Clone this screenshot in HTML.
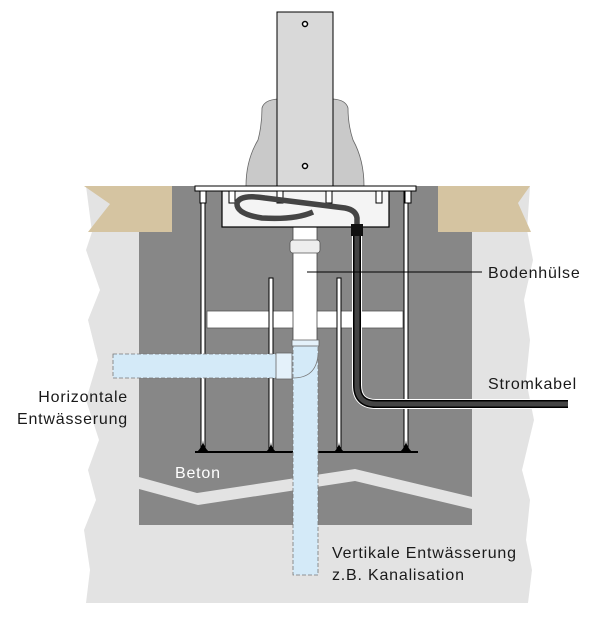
<!DOCTYPE html>
<html><head><meta charset="utf-8"><style>
html,body{margin:0;padding:0;background:#fff;}
svg{display:block}
text{font-family:"Liberation Sans",sans-serif;font-size:16px;letter-spacing:0.8px;fill:#1a1a1a}
</style></head><body>
<svg width="612" height="624" viewBox="0 0 612 624" xmlns="http://www.w3.org/2000/svg">
<polygon fill="#e3e3e3" points="86,186 530,186 527,230 533,260 524,300 530,340 526,380 534,420 522,470 530,500 526,540 532,570 528,603 86,603 90,570 84,530 96,500 88,470 99,440 86,400 98,360 88,320 100,290 86,250 92,232" />
<polygon fill="#d5c4a1" points="84,186 176,186 176,232 88,232 110,204" />
<polygon fill="#d5c4a1" points="438,186 530,186 518,203 531,232 438,232" />
<polygon fill="#878787" points="172,186 438,186 438,232 472,232 472,525 139,525 139,232 172,232" />
<polygon fill="#e3e3e3" points="139,477 197,493 355,469 472,497 472,509 355,481 198,505 139,489" />
<rect x="207" y="311" width="196" height="17" fill="#fff" stroke="#555" stroke-width="0.8"/>
<line x1="195" y1="452" x2="418" y2="452" stroke="#000" stroke-width="2"/>
<g fill="#fff" stroke="#000" stroke-width="1">
<rect x="201" y="191" width="4" height="261"/>
<rect x="404" y="191" width="4" height="261"/>
<rect x="269" y="278" width="4" height="174"/>
<rect x="337" y="278" width="4" height="174"/>
</g>
<g fill="#000">
<path d="M197,452 Q203,446 203,440 Q203,446 209,452Z"/>
<path d="M400,452 Q406,446 406,440 Q406,446 412,452Z"/>
<path d="M266,452 Q271,447 271,442 Q271,447 276,452Z"/>
<path d="M334,452 Q339,447 339,442 Q339,447 344,452Z"/>
</g>
<rect x="293" y="227" width="24" height="115" fill="#fff" stroke="#444" stroke-width="0.8"/>
<rect x="290" y="240" width="30" height="13" rx="3" fill="#eee" stroke="#555" stroke-width="0.8"/>
<rect x="113" y="354" width="182" height="24" fill="#d4eaf8" stroke="#777" stroke-width="0.8" stroke-dasharray="4,2"/>
<rect x="293" y="342" width="25" height="233" fill="#d4eaf8" stroke="#777" stroke-width="0.8" stroke-dasharray="4,2"/>
<path d="M293,378 Q316,378 318,355" fill="none" stroke="#777" stroke-width="0.8"/>
<rect x="292" y="340" width="27" height="6" fill="#e4f1fa" stroke="#666" stroke-width="0.8"/>
<rect x="276" y="353" width="16" height="26" fill="#e4f1fa" stroke="#666" stroke-width="0.8"/>
<path d="M357,228 L357,385 Q357,404 376,404 L568,404" fill="none" stroke="#fff" stroke-width="10"/>
<path d="M357,228 L357,385 Q357,404 376,404 L568,404" fill="none" stroke="#000" stroke-width="8"/>
<path d="M357,228 L357,385 Q357,404 376,404 L568,404" fill="none" stroke="#444" stroke-width="5"/>
<path d="M246,186 Q246,160 258,140 Q262,125 262,108 Q264,100 278,99 L278,186Z" fill="#c9c9c9" stroke="#666" stroke-width="0.8"/>
<path d="M364,186 Q364,160 353,140 Q348,125 348,108 Q346,100 333,99 L333,186Z" fill="#c9c9c9" stroke="#666" stroke-width="0.8"/>
<rect x="277" y="12" width="56" height="174" fill="#d9d9d9" stroke="#000" stroke-width="1"/>
<circle cx="305" cy="24" r="2.5" fill="#fff" stroke="#000" stroke-width="1.5"/>
<circle cx="305" cy="166" r="2.5" fill="#fff" stroke="#000" stroke-width="1.5"/>
<rect x="222" y="191" width="167" height="36" fill="#f4f4f4" stroke="#000" stroke-width="1.2"/>
<rect x="195" y="186" width="221" height="5" fill="#fff" stroke="#000" stroke-width="1"/>
<g fill="#fff" stroke="#000" stroke-width="1">
<rect x="200" y="191" width="6" height="12"/>
<rect x="229" y="191" width="6" height="12"/>
<rect x="277" y="191" width="6" height="12"/>
<rect x="326" y="191" width="6" height="12"/>
<rect x="376" y="191" width="6" height="12"/>
<rect x="405" y="191" width="6" height="12"/>
</g>
<path d="M357,226 L357,218 Q356,210 345,208 L265,198 Q240,194 237,203 Q236,214 262,218 Q295,220 313,212" fill="none" stroke="#444" stroke-width="5.5"/>
<rect x="351" y="224" width="12" height="12" fill="#111"/>
<line x1="307" y1="272" x2="482" y2="272" stroke="#000" stroke-width="1"/>
<text x="488" y="278">Bodenhülse</text>
<text x="488" y="389">Stromkabel</text>
<text x="128" y="402" text-anchor="end">Horizontale</text>
<text x="128" y="424" text-anchor="end">Entwässerung</text>
<text x="175" y="478" style="fill:#fff">Beton</text>
<text x="332" y="558">Vertikale Entwässerung</text>
<text x="332" y="580">z.B. Kanalisation</text>
</svg>
</body></html>
